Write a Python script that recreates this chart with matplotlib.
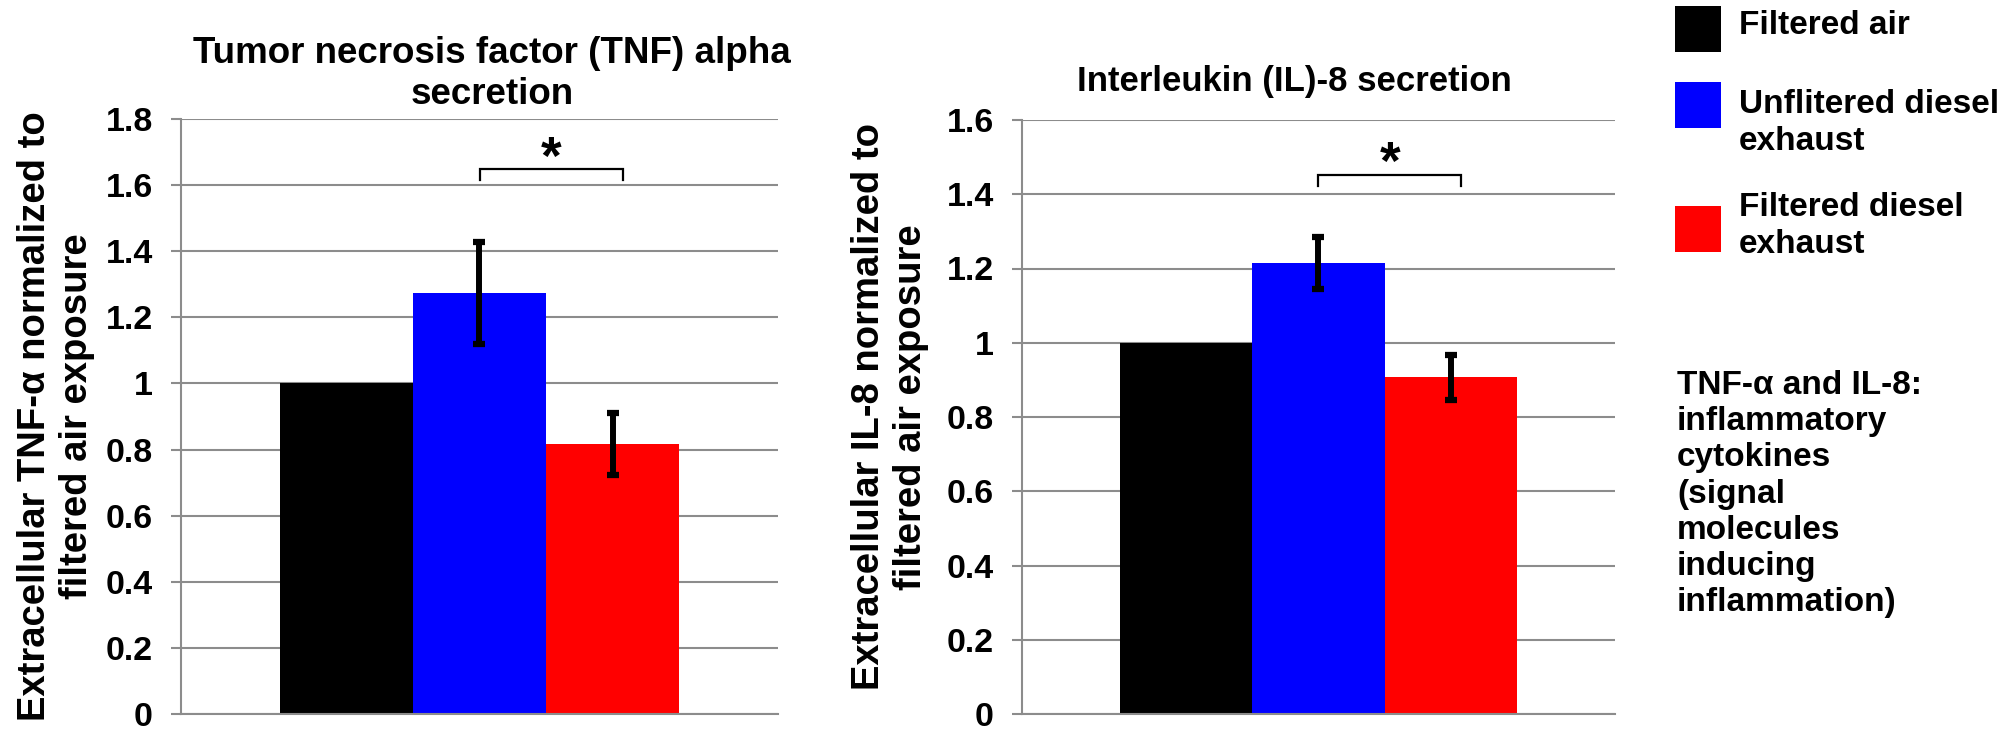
import matplotlib
matplotlib.use("Agg")
import matplotlib.pyplot as plt
from matplotlib.patches import Rectangle

plt.rcParams["font.family"] = ["Liberation Sans", "DejaVu Sans"]
plt.rcParams["font.weight"] = "bold"

# data
groups = ["Filtered air", "Unflitered diesel\nexhaust", "Filtered diesel\nexhaust"]
colors = ["#000000", "#0000ff", "#ff0000"]

tnf_values = [1.0, 1.273, 0.818]
tnf_errors = [None, 0.154, 0.094]

il8_values = [1.0, 1.215, 0.907]
il8_errors = [None, 0.07, 0.061]

note = "TNF-\u03b1 and IL-8:\ninflammatory\ncytokines\n(signal\nmolecules\ninducing\ninflammation)"

W, H = 2006, 729
grid_col = "#8c8c8c"
bw = 0.2228


def px(x0, y0, x1, y1):
    # pixel box (top-left origin) -> figure fraction rect
    return [x0 / W, 1 - y1 / H, (x1 - x0) / W, (y1 - y0) / H]


def panel(ax, values, errors, ymax, step, bracket):
    xs = [-bw, 0, bw]
    ax.bar(xs, values, width=bw, color=colors, edgecolor="none", zorder=2)
    for x, v, e in zip(xs, values, errors):
        if e is None:
            continue
        ax.errorbar(x, v, yerr=e, fmt="none", ecolor="black", elinewidth=4.3,
                    capsize=4.5, capthick=4.5, zorder=3)
    ax.set_xlim(-0.5, 0.5)
    ax.set_ylim(0, ymax)
    ticks = [round(i * step, 1) for i in range(int(round(ymax / step)) + 1)]
    ax.set_yticks(ticks)
    ax.set_yticklabels([("%g" % t) for t in ticks])
    ax.set_xticks([])
    ax.yaxis.grid(True, color=grid_col, linewidth=1.5, zorder=0)
    ax.set_axisbelow(True)
    for s in ["top", "right"]:
        ax.spines[s].set_visible(False)
    for s in ["left", "bottom"]:
        ax.spines[s].set_color(grid_col)
        ax.spines[s].set_linewidth(1.5)
    ax.tick_params(axis="y", length=7.2, width=1.5, color=grid_col,
                   labelsize=24.5, pad=13)
    for lab in ax.get_yticklabels():
        lab.set_fontweight("bold")
    # significance bracket
    x0, x1, ytop, yleg, ystar = bracket
    ax.plot([x0, x0, x1, x1], [yleg, ytop, ytop, yleg], color="black",
            linewidth=1.6, zorder=3, solid_joinstyle="miter")
    ax.text((x0 + x1) / 2, ystar, "*", ha="center", va="center",
            fontsize=38, fontweight="bold")


fig = plt.figure(figsize=(W / 100, H / 100), dpi=100)

ax1 = fig.add_axes(px(181, 119, 778, 714))
panel(ax1, tnf_values, tnf_errors, 1.8, 0.2, (0.001, 0.240, 1.649, 1.614, 1.675))

ax2 = fig.add_axes(px(1022, 120, 1615, 714))
panel(ax2, il8_values, il8_errors, 1.6, 0.2, (0.0, 0.240, 1.453, 1.422, 1.48))

fig.text(492 / W, 1 - 74 / H, "Tumor necrosis factor (TNF) alpha\nsecretion",
         ha="center", va="center", fontsize=26.5, fontweight="bold",
         multialignment="center")
fig.text(1294 / W, 1 - 81 / H, "Interleukin (IL)-8 secretion",
         ha="center", va="center", fontsize=25, fontweight="bold")

fig.text(56 / W, 1 - 416 / H,
         "Extracellular TNF-\u03b1 normalized to\nfiltered air exposure",
         rotation=90, ha="center", va="center", fontsize=27.5,
         fontweight="bold", multialignment="center")
fig.text(890 / W, 1 - 407 / H,
         "Extracellular IL-8 normalized to\nfiltered air exposure",
         rotation=90, ha="center", va="center", fontsize=27.5,
         fontweight="bold", multialignment="center")

# legend drawn by hand
patch_tops = [6, 82, 206]
text_centers = [25, 123, 226]
for c, lab, top, tc in zip(colors, groups, patch_tops, text_centers):
    x0, y0, w, h = px(1675, top, 1721, top + 46)
    fig.add_artist(Rectangle((x0, y0), w, h, transform=fig.transFigure,
                             facecolor=c, edgecolor="none"))
    fig.text(1739 / W, 1 - tc / H, lab, ha="left", va="center",
             fontsize=24, fontweight="bold", linespacing=1.22)

fig.text(1677 / W, 1 - 494 / H, note, ha="left", va="center",
         fontsize=24, fontweight="bold", linespacing=1.22)

fig.savefig("out.png", dpi=100)
